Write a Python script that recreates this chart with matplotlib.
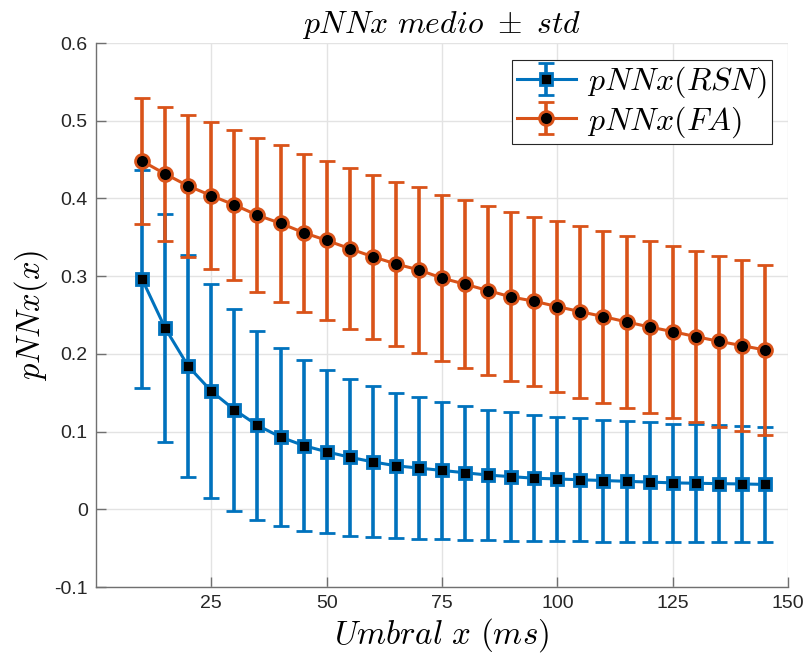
import matplotlib
matplotlib.use("Agg")
import matplotlib.pyplot as plt
from matplotlib.ticker import FuncFormatter

plt.rcParams['mathtext.fontset'] = 'cm'
plt.rcParams['font.family'] = ['Liberation Sans', 'DejaVu Sans']

umbral = [10, 15, 20, 25, 30, 35, 40, 45, 50, 55, 60, 65, 70, 75,
          80, 85, 90, 95, 100, 105, 110, 115, 120, 125, 130, 135, 140, 145]

rsn_mean = [0.296, 0.233, 0.184, 0.152, 0.128, 0.108, 0.093, 0.082, 0.074, 0.067,
            0.061, 0.056, 0.053, 0.050, 0.047, 0.044, 0.042, 0.040, 0.039, 0.038,
            0.037, 0.036, 0.035, 0.034, 0.0335, 0.033, 0.0326, 0.032]
rsn_std = [0.140, 0.147, 0.143, 0.138, 0.130, 0.122, 0.115, 0.110, 0.105, 0.101,
           0.097, 0.093, 0.091, 0.088, 0.0865, 0.084, 0.0826, 0.0813, 0.080, 0.0794,
           0.0785, 0.0775, 0.0769, 0.0762, 0.0756, 0.0751, 0.0746, 0.0742]

fa_mean = [0.448, 0.4315, 0.416, 0.4036, 0.3916, 0.3784, 0.368, 0.356, 0.346, 0.3354,
           0.325, 0.3157, 0.308, 0.2975, 0.2896, 0.2814, 0.2732, 0.2677, 0.2608, 0.2543,
           0.2479, 0.2411, 0.2346, 0.2286, 0.2222, 0.2162, 0.2106, 0.205]
fa_std = [0.081, 0.086, 0.091, 0.0946, 0.0963, 0.099, 0.101, 0.1015, 0.102, 0.104,
          0.1053, 0.1057, 0.1068, 0.107, 0.1079, 0.1086, 0.1087, 0.1088, 0.1098, 0.1105,
          0.1105, 0.1104, 0.1109, 0.1107, 0.1105, 0.1099, 0.1096, 0.1094]

xticks = [25, 50, 75, 100, 125, 150]
yticks = [-0.1, 0, 0.1, 0.2, 0.3, 0.4, 0.5, 0.6]

blue = '#0072BD'
orange = '#D95319'

fig = plt.figure(figsize=(8.07, 6.61), dpi=100)
ax = fig.add_axes([96/807, 1-587/661, (788-96)/807, (587-43)/661])

ax.errorbar(umbral, rsn_mean, yerr=rsn_std, fmt='-s', color=blue, mfc='k', mec=blue,
            mew=2.0, ms=8, lw=2.2, elinewidth=2.6, capsize=6, capthick=2.6,
            label=r'$pNNx(RSN)$', zorder=3)
ax.errorbar(umbral, fa_mean, yerr=fa_std, fmt='-o', color=orange, mfc='k', mec=orange,
            mew=2.0, ms=10, lw=2.2, elinewidth=2.6, capsize=6, capthick=2.6,
            label=r'$pNNx(FA)$', zorder=4)

ax.set_xlim(0, 150)
ax.set_ylim(-0.1, 0.6)
ax.set_xticks(xticks)
ax.set_yticks(yticks)
ax.yaxis.set_major_formatter(FuncFormatter(lambda v, p: '0' if abs(v) < 1e-9 else ('%g' % round(v, 1))))
ax.grid(True, color='#E3E3E3', lw=1.0)
ax.set_axisbelow(True)
for s in ['top', 'right']:
    ax.spines[s].set_visible(False)
for s in ['left', 'bottom']:
    ax.spines[s].set_color('#707070')
    ax.spines[s].set_linewidth(1.0)
ax.tick_params(direction='in', length=7, width=1, color='#707070', labelsize=14,
               labelcolor='#262626', pad=6)

ax.set_title(r'$pNNx\ medio\ \pm\ std$', fontsize=22.8, pad=7)
ax.set_xlabel(r'$Umbral\ x\ (ms)$', fontsize=23.8, labelpad=3)
ax.set_ylabel(r'$pNNx(x)$', fontsize=23.5, labelpad=3)

leg = ax.legend(loc='upper right', bbox_to_anchor=((772-96)/692, (587-60)/544),
                borderaxespad=0, fontsize=23, fancybox=False, framealpha=1,
                edgecolor='#262626', handlelength=1.85, handletextpad=0.35,
                borderpad=0.15, labelspacing=0.12)
leg.get_frame().set_linewidth(0.8)

fig.savefig('out.png', dpi=100)
